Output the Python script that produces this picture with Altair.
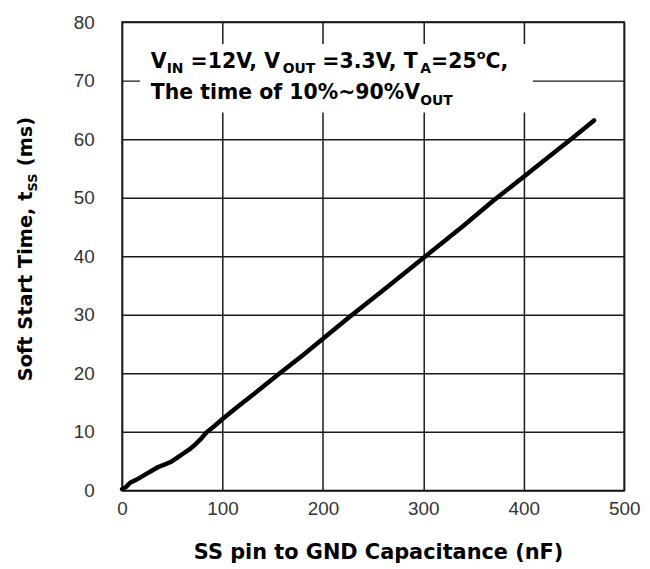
import altair as alt
import pandas as pd

# ---- data ----
cap_nf = [0, 4, 8, 14, 20, 25, 30, 36, 42, 49, 55, 61, 67, 72, 78, 84, 92, 100,
          115, 130, 157, 180, 200, 227, 260, 300, 340, 369, 400, 430, 448, 470]
t_ss_ms = [0.2, 0.6, 1.3, 1.8, 2.4, 2.9, 3.4, 4.0, 4.4, 4.9, 5.6, 6.3, 7.0, 7.7, 8.7, 9.9, 11.0, 12.2,
           14.3, 16.3, 20.0, 23.1, 25.9, 29.7, 34.2, 39.7, 45.2, 49.4, 53.6, 57.7, 60.1, 63.2]
x_ticks = [0, 100, 200, 300, 400, 500]
y_ticks = [0, 10, 20, 30, 40, 50, 60, 70, 80]

x_title = "SS pin to GND Capacitance (nF)"
# (text, kind, leading gap in spaces)
y_title_parts = [("Soft Start Time, t", "main", 0), ("SS", "sub", 0), ("(ms)", "main", 1)]
note_line1 = [("V", "main", 0), ("IN", "sub", 0), ("=12V, V", "main", 1), ("OUT", "sub", 0),
              ("=3.3V, T", "main", 1), ("A", "sub", 0), ("=25", "main", 0), ("o", "sup", 0),
              ("C,", "main", 0)]
note_line2 = [("The time of 10%~90%V", "main", 0), ("OUT", "sub", 0)]

# ---- layout ----
W, H = 506, 472
FONT = "DejaVu Sans"
ADV = {' ': 348, '%': 1002, '(': 457, ')': 457, ',': 380, '.': 380, '=': 838, '~': 838,
       'A': 774, 'C': 734, 'D': 830, 'F': 683, 'G': 821, 'I': 372, 'N': 837, 'O': 850,
       'S': 720, 'T': 682, 'U': 812, 'V': 774, 'a': 675, 'c': 593, 'e': 678, 'f': 435,
       'h': 712, 'i': 343, 'm': 1042, 'n': 712, 'o': 687, 'p': 716, 'r': 493, 's': 595, 't': 478}
for d in "0123456789":
    ADV[d] = 696


def text_w(s, fs):
    return sum(ADV.get(ch, 650) for ch in s) * fs / 1000.0


one = pd.DataFrame({"k": [0]})


def run(parts, x0, y0, fs, vertical=False):
    sizes = {"main": fs, "sub": round(fs * 0.68), "sup": round(fs * 0.65)}
    shift = {"main": 0, "sub": fs * 0.27, "sup": -fs * 0.42}
    layers = []
    pos = 0.0
    for s, kind, gap in parts:
        size = sizes[kind]
        pos += gap * 348 * fs / 1000.0
        if vertical:
            px, py, ang = x0 + shift[kind], y0 - pos, 270
        else:
            px, py, ang = x0 + pos, y0 + shift[kind], 0
        layers.append(
            alt.Chart(one).mark_text(text=s, font=FONT, fontWeight="bold", fontSize=size,
                                     align="left", baseline="alphabetic", angle=ang,
                                     color="black")
            .encode(x=alt.value(px), y=alt.value(py))
        )
        pos += text_w(s, size)
    return layers


df = pd.DataFrame({"c": cap_nf, "t": t_ss_ms})

line = alt.Chart(df).mark_line(color="black", strokeWidth=4.5, strokeCap="round",
                               strokeJoin="round").encode(
    x=alt.X("c:Q", scale=alt.Scale(domain=[0, 500], nice=False, zero=True),
            axis=alt.Axis(values=x_ticks, title=x_title, labelPadding=9, labelFlush=False,
                          titleFont=FONT, titleFontWeight="bold", titleFontSize=21,
                          titleColor="black", titleX=258, titleY=69,
                          titleBaseline="alphabetic")),
    y=alt.Y("t:Q", scale=alt.Scale(domain=[0, 80], nice=False, zero=True),
            axis=alt.Axis(values=y_ticks, title=None, labelPadding=28, labelFlush=False)),
)

box = alt.Chart(one).mark_rect(fill="white", stroke=None).encode(
    x=alt.value(18), x2=alt.value(414), y=alt.value(22), y2=alt.value(91))

texts = (run(note_line1, 29, 46, 20.6) + run(note_line2, 29, 78, 20.6)
         + run(y_title_parts, -91, 362, 19.5, vertical=True))

chart = alt.layer(line, box, *texts).properties(
    width=W, height=H,
    padding={"left": 115, "top": 12, "right": 18, "bottom": 74},
    autosize=alt.AutoSizeParams(type="none"),
).configure_view(stroke="black", strokeWidth=1.5).configure_axis(
    grid=True, gridColor="#1a1a1a", gridWidth=1.5, gridOpacity=1,
    domain=False, ticks=False,
    labelFont="Liberation Sans", labelFontSize=19, labelColor="#333",
)

chart.save("out.html", embed_options={"renderer": "svg", "actions": False})
